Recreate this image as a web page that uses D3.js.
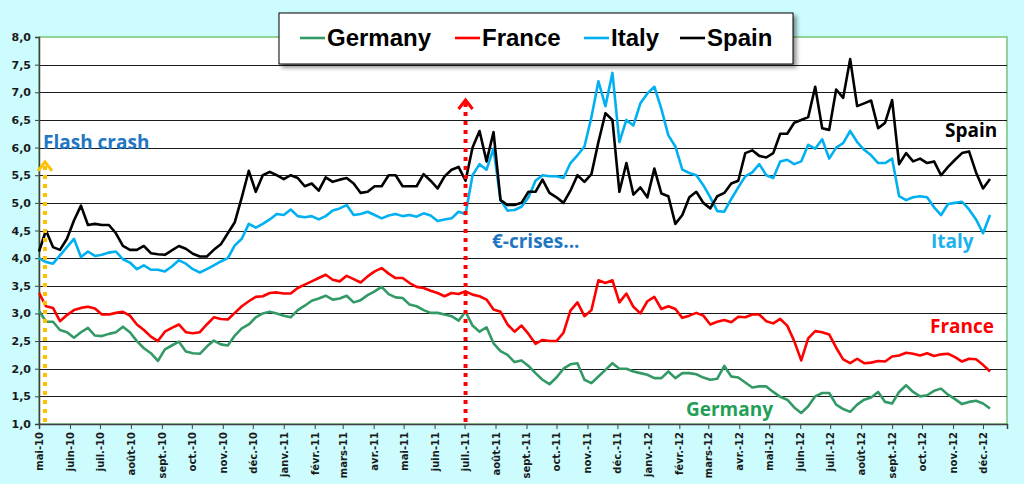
<!DOCTYPE html>
<html>
<head>
<meta charset="utf-8">
<script src="https://cdn.jsdelivr.net/npm/d3@7"></script>
<style>
  body { margin: 0; background: #ccfcfe; }
  svg { display: block; }
</style>
</head>
<body>
<script>
// weekly yields (%), one value per week starting 1 May 2010
var germany = [3.05,2.85,2.85,2.7,2.66,2.56,2.66,2.74,2.6,2.59,2.63,2.66,2.76,2.66,2.5,2.37,2.28,2.14,2.35,2.42,2.49,2.31,2.28,2.27,2.4,2.51,2.44,2.42,2.6,2.73,2.8,2.93,3.0,3.03,3.0,2.96,
  2.93,3.06,3.14,3.23,3.27,3.32,3.25,3.27,3.32,3.2,3.24,3.33,3.4,3.48,3.35,3.29,3.28,3.16,3.13,3.06,3.01,3.01,2.98,2.95,2.87,3.03,2.78,2.67,2.75,2.46,2.32,2.25,2.12,2.15,
  2.05,1.92,1.8,1.72,1.84,2.0,2.08,2.1,1.8,1.74,1.86,1.98,2.1,2.0,2.0,1.95,1.92,1.89,1.83,1.83,1.95,1.83,1.92,1.92,1.9,1.84,1.8,1.82,2.05,1.86,1.84,1.75,1.66,1.68,
  1.68,1.58,1.49,1.44,1.3,1.2,1.32,1.5,1.56,1.56,1.35,1.27,1.22,1.35,1.44,1.48,1.58,1.4,1.37,1.58,1.7,1.58,1.5,1.52,1.6,1.64,1.53,1.45,1.36,1.4,1.42,1.37,1.28];

var france = [3.37,3.13,3.1,2.86,2.97,3.06,3.1,3.12,3.09,2.98,2.98,3.01,3.03,2.96,2.8,2.7,2.58,2.5,2.67,2.74,2.8,2.66,2.64,2.66,2.8,2.93,2.9,2.89,3.01,3.13,3.22,3.3,3.31,3.37,3.38,3.36,
  3.36,3.46,3.52,3.58,3.64,3.7,3.61,3.58,3.68,3.62,3.56,3.67,3.76,3.82,3.72,3.64,3.64,3.55,3.48,3.46,3.41,3.37,3.31,3.37,3.35,3.4,3.34,3.31,3.25,3.07,3.03,2.8,2.67,2.78,
  2.63,2.45,2.52,2.5,2.5,2.65,3.05,3.2,2.95,3.06,3.6,3.55,3.6,3.2,3.36,3.12,3.0,3.22,3.3,3.08,3.13,3.08,2.92,2.96,3.01,2.96,2.8,2.85,2.88,2.84,2.94,2.93,2.98,2.98,
  2.86,2.82,2.9,2.78,2.5,2.15,2.55,2.68,2.66,2.62,2.38,2.17,2.1,2.18,2.1,2.11,2.14,2.13,2.22,2.24,2.29,2.27,2.24,2.28,2.23,2.26,2.27,2.21,2.13,2.18,2.17,2.07,1.95];

var italy = [4.0,3.93,3.9,4.05,4.2,4.35,4.02,4.12,4.04,4.06,4.1,4.12,3.98,3.92,3.8,3.87,3.79,3.79,3.76,3.85,3.96,3.9,3.8,3.74,3.8,3.87,3.94,4.0,4.23,4.35,4.62,4.55,4.62,4.7,4.8,4.78,
  4.88,4.76,4.74,4.76,4.7,4.76,4.86,4.9,4.96,4.78,4.8,4.84,4.78,4.72,4.77,4.8,4.76,4.78,4.75,4.81,4.77,4.67,4.7,4.72,4.84,4.8,5.5,5.7,5.6,5.98,5.05,4.86,4.87,4.93,
  5.1,5.4,5.5,5.48,5.48,5.45,5.72,5.86,6.02,6.55,7.2,6.75,7.35,6.1,6.5,6.4,6.8,6.98,7.1,6.7,6.22,6.02,5.6,5.54,5.5,5.32,5.1,4.85,4.84,5.07,5.28,5.48,5.55,5.7,
  5.5,5.45,5.75,5.78,5.7,5.75,6.05,5.98,6.15,5.8,6.0,6.08,6.3,6.1,5.96,5.86,5.72,5.72,5.8,5.12,5.05,5.1,5.12,5.1,4.92,4.78,4.98,5.0,5.02,4.88,4.7,4.45,4.78];

var spain = [4.12,4.5,4.2,4.15,4.35,4.68,4.95,4.6,4.62,4.6,4.6,4.45,4.22,4.15,4.15,4.22,4.09,4.07,4.06,4.14,4.22,4.17,4.08,4.03,4.03,4.15,4.25,4.45,4.65,5.1,5.58,5.2,5.5,5.56,5.5,5.43,
  5.5,5.45,5.3,5.35,5.22,5.46,5.38,5.42,5.45,5.35,5.18,5.2,5.3,5.3,5.5,5.5,5.3,5.3,5.3,5.52,5.4,5.26,5.48,5.6,5.65,5.4,6.0,6.3,5.75,6.28,5.05,4.96,4.96,5.0,
  5.2,5.2,5.42,5.18,5.1,5.0,5.22,5.5,5.38,5.52,6.1,6.62,6.5,5.2,5.72,5.15,5.28,5.1,5.62,5.17,5.12,4.62,4.78,5.1,5.2,5.0,4.9,5.12,5.18,5.35,5.4,5.9,5.95,5.85,
  5.82,5.9,6.25,6.25,6.45,6.5,6.55,7.1,6.35,6.32,7.05,6.9,7.6,6.75,6.8,6.85,6.35,6.45,6.86,5.7,5.9,5.75,5.8,5.72,5.75,5.5,5.65,5.78,5.9,5.93,5.55,5.26,5.43];

var seriesNames = ["Germany", "France", "Italy", "Spain"];
var seriesColors = ["#339966", "#ff0000", "#00b0f0", "#000000"];
var monthNames = ["janv.", "févr.", "mars", "avr.", "mai", "juin", "juil.", "août", "sept.", "oct.", "nov.", "déc."];
var yTicks = [1, 1.5, 2, 2.5, 3, 3.5, 4, 4.5, 5, 5.5, 6, 6.5, 7, 7.5, 8];

var startDate = new Date(2010, 4, 1);
var endDate = new Date(2012, 11, 25);
var flashCrashDate = new Date(2010, 4, 7);
var euroCrisisDate = new Date(2011, 6, 2);

var width = 1024, height = 484;
var margin = {top: 37, right: 17, bottom: 60, left: 39};

var svg = d3.select("body").append("svg")
    .attr("width", width)
    .attr("height", height);

svg.append("rect").attr("width", width).attr("height", height).attr("fill", "#ccfcfe");

var defs = svg.append("defs");
var shadow = defs.append("filter").attr("id", "shadow")
    .attr("x", "-10%").attr("y", "-30%").attr("width", "130%").attr("height", "180%");
shadow.append("feDropShadow").attr("dx", 3).attr("dy", 3).attr("stdDeviation", 2)
    .attr("flood-color", "#000").attr("flood-opacity", 0.45);

var x = d3.scaleTime()
    .domain([startDate, endDate])
    .range([margin.left, width - margin.right]);

var y = d3.scaleLinear()
    .domain([1, 8])
    .range([height - margin.bottom, margin.top]);

// plot area
svg.append("rect")
    .attr("x", margin.left).attr("y", margin.top)
    .attr("width", width - margin.right - margin.left)
    .attr("height", height - margin.bottom - margin.top)
    .attr("fill", "#fff")
    .attr("stroke", "#77c57a")
    .attr("stroke-width", 1.5);

// gridlines
svg.append("g").selectAll("line")
    .data(yTicks.filter(function(d) { return d > 1 && d < 8; }))
    .enter().append("line")
    .attr("x1", margin.left).attr("x2", width - margin.right)
    .attr("y1", function(d) { return Math.round(y(d)) + 0.5; })
    .attr("y2", function(d) { return Math.round(y(d)) + 0.5; })
    .attr("stroke", "#1a1a1a")
    .attr("stroke-width", 1.2);

// y axis
var yAxis = svg.append("g")
    .attr("transform", "translate(" + margin.left + ",0)")
    .call(d3.axisLeft(y).tickValues(yTicks).tickSize(4).tickPadding(4)
      .tickFormat(function(d) { return d3.format(".1f")(d).replace(".", ","); }));
yAxis.select(".domain").attr("stroke", "#404040").attr("stroke-width", 1.5);
yAxis.selectAll(".tick line").attr("stroke", "#404040");
yAxis.selectAll("text")
    .style("font-family", "'DejaVu Sans', Verdana, sans-serif")
    .style("font-weight", "bold")
    .style("font-size", "11px")
    .attr("fill", "#1a1a1a");

// x axis
var xAxis = svg.append("g")
    .attr("transform", "translate(0," + (height - margin.bottom) + ")")
    .call(d3.axisBottom(x).ticks(d3.timeMonth.every(1)).tickSize(5)
      .tickFormat(function(d) {
        return monthNames[d.getMonth()] + "-" + String(d.getFullYear()).slice(2);
      }));
xAxis.select(".domain").attr("stroke", "#404040").attr("stroke-width", 1.5);
xAxis.selectAll(".tick line").attr("stroke", "#404040");
xAxis.selectAll("text")
    .attr("transform", "rotate(-90)")
    .attr("text-anchor", "end")
    .attr("x", -8)
    .attr("y", 0)
    .attr("dy", "0.35em")
    .style("font-family", "'DejaVu Sans', Verdana, sans-serif")
    .style("font-weight", "bold")
    .style("font-size", "10px")
    .attr("fill", "#1a1a1a");

// lines
var weeks = d3.range(germany.length).map(function(i) { return d3.timeDay.offset(startDate, 7 * i); });
var allSeries = [germany, france, italy, spain];

var line = d3.line()
    .x(function(d, i) { return x(weeks[i]); })
    .y(function(d) { return y(d); });

// draw order: Germany, France, Italy, Spain (Spain on top)
allSeries.forEach(function(s, i) {
  svg.append("path")
      .datum(s)
      .attr("fill", "none")
      .attr("stroke", seriesColors[i])
      .attr("stroke-width", 2.6)
      .attr("stroke-linejoin", "round")
      .attr("d", line);
});

// dotted arrows
function drawArrow(date, topValue, color) {
  var ax = x(date);
  var top = y(topValue);
  svg.append("line")
      .attr("x1", ax).attr("x2", ax)
      .attr("y1", height - margin.bottom - 2).attr("y2", top + 3)
      .attr("stroke", color)
      .attr("stroke-width", 4)
      .attr("stroke-dasharray", "4,5");
  svg.append("path")
      .attr("d", "M" + (ax - 7) + "," + (top + 9) + "L" + ax + "," + top + "L" + (ax + 7) + "," + (top + 9))
      .attr("fill", "none")
      .attr("stroke", color)
      .attr("stroke-width", 3);
}
drawArrow(flashCrashDate, 5.74, "#ffc000");
drawArrow(euroCrisisDate, 6.86, "#ff0000");

// annotations
var notes = [
  {text: "Flash crash", x: 43, y: 149, color: "#1f77c4"},
  {text: "€-crises...", x: 492, y: 248, color: "#1f77c4"},
  {text: "Spain", x: 945, y: 137, color: "#000000"},
  {text: "Italy", x: 931, y: 248, color: "#19b2ee"},
  {text: "France", x: 930, y: 333, color: "#ff0000"},
  {text: "Germany", x: 686, y: 416, color: "#1fa055"}
];
svg.selectAll(".note")
    .data(notes)
    .enter().append("text")
    .attr("class", "note")
    .attr("x", function(d) { return d.x; })
    .attr("y", function(d) { return d.y; })
    .attr("fill", function(d) { return d.color; })
    .style("font-family", "'Open Sans', sans-serif")
    .style("font-weight", "bold")
    .style("font-size", "19px")
    .text(function(d) { return d.text; });

// legend
var legend = svg.append("g");
legend.append("rect")
    .attr("x", 279).attr("y", 13)
    .attr("width", 514).attr("height", 51)
    .attr("fill", "#fff")
    .attr("stroke", "#000")
    .attr("stroke-width", 1)
    .attr("filter", "url(#shadow)");

var legendX = [300, 455, 584, 680];
seriesNames.forEach(function(name, i) {
  legend.append("line")
      .attr("x1", legendX[i]).attr("x2", legendX[i] + 25)
      .attr("y1", 38).attr("y2", 38)
      .attr("stroke", seriesColors[i])
      .attr("stroke-width", 2.6);
  legend.append("text")
      .attr("x", legendX[i] + 27)
      .attr("y", 46)
      .style("font-family", "'Liberation Sans', Arial, sans-serif")
      .style("font-weight", "bold")
      .style("font-size", "24px")
      .attr("fill", "#000")
      .text(name);
});
</script>
</body>
</html>
